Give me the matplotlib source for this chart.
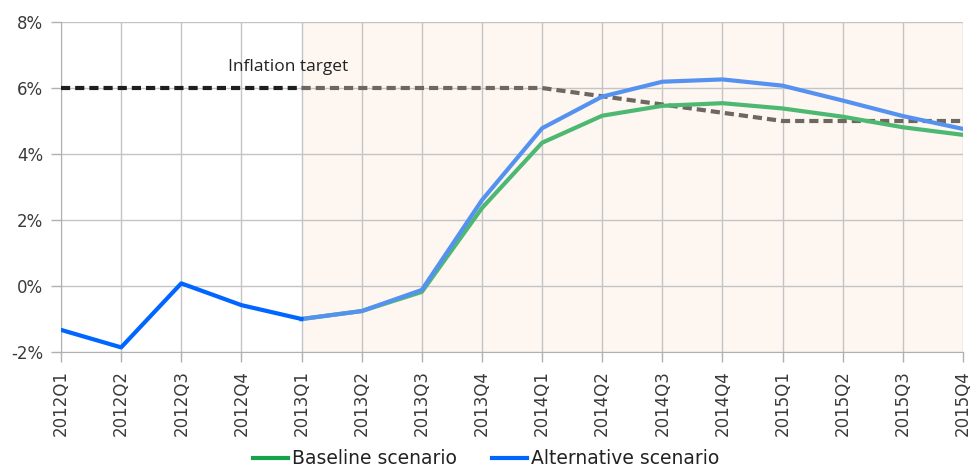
import matplotlib.pyplot as plt
import numpy as np

quarters = ["2012Q1", "2012Q2", "2012Q3", "2012Q4",
            "2013Q1", "2013Q2", "2013Q3", "2013Q4",
            "2014Q1", "2014Q2", "2014Q3", "2014Q4",
            "2015Q1", "2015Q2", "2015Q3", "2015Q4"]

# actual inflation up to 2013Q1
history = [-1.33, -1.86, 0.08, -0.58, -1.0]

# forecasts from 2013Q1 onwards
baseline = [-1.0, -0.76, -0.18, 2.36, 4.34, 5.16, 5.46, 5.54, 5.38, 5.13, 4.81, 4.58]
alternative = [-1.0, -0.76, -0.12, 2.6, 4.78, 5.74, 6.19, 6.26, 6.07, 5.62, 5.15, 4.76]

target_hist = [6, 6, 6, 6, 6]
target_fcst = [6, 6, 6, 6, 6, 5.75, 5.5, 5.25, 5, 5, 5, 5]

x = np.arange(len(quarters))
xh = x[:5]
xf = x[4:]

fig = plt.figure(figsize=(9.72, 4.73), dpi=100)
ax = fig.add_axes([61 / 972, 121 / 473, 902 / 972, 330 / 473])

# forecast period shading
ax.axvspan(4, 15, color="#fdf6f1", zorder=0, lw=0)

ax.plot(xh, target_hist, color="#1e1e1e", lw=3, ls=(0, (2.2, 1.2)), zorder=3)
ax.plot(xf, target_fcst, color="#6e6660", lw=3, ls=(0, (2.2, 1.2)), zorder=3)
ax.plot(xf, baseline, color="#4db872", lw=3, zorder=4)
ax.plot(xf, alternative, color="#5592f0", lw=3, zorder=5)
ax.plot(xh, history, color="#0066ff", lw=3, zorder=6)

ax.text(3.78, 6.64, "Inflation target", ha="center", va="center",
        fontsize=12.5, family="Open Sans", color="#222222")

ax.set_xlim(0, 15)
ax.set_ylim(-2, 8)
ax.set_xticks(x)
ax.set_xticklabels(quarters, rotation=90, fontsize=12, color="#3a3a3a")
ax.set_yticks(np.arange(-2, 9, 2))
ax.set_yticklabels([f"{v}%" for v in range(-2, 9, 2)], fontsize=12, color="#3a3a3a")
ax.tick_params(axis="both", length=7, width=1, color="#b0b0b0", pad=6)

ax.grid(True, color="#c4c4c4", lw=1)
ax.set_axisbelow(True)
for s in ["top", "right"]:
    ax.spines[s].set_visible(False)
for s in ["left", "bottom"]:
    ax.spines[s].set_color("#b0b0b0")

h1, = ax.plot([], [], color="#17a34a", lw=3)
h2, = ax.plot([], [], color="#0066ff", lw=3)
fig.legend([h1, h2], ["Baseline scenario", "Alternative scenario"],
           loc="center", bbox_to_anchor=(0.5, 0.03), ncol=2, frameon=False,
           fontsize=13.5, handlelength=1.9, handletextpad=0.2, columnspacing=1.85,
           labelcolor="#222222", borderpad=0.1)

fig.savefig("out.png", dpi=100)
